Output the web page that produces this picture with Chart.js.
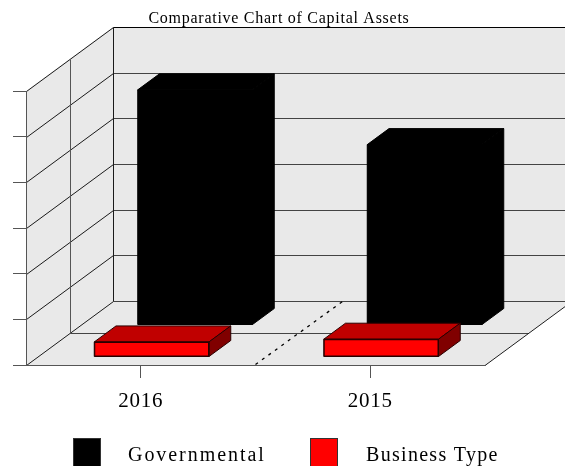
<!DOCTYPE html>
<html><head><meta charset="utf-8">
<style>html,body{margin:0;padding:0;background:#fff}canvas{display:block}</style>
<script src="https://cdn.jsdelivr.net/npm/chart.js@4"></script>
</head><body><canvas id="c" width="565" height="466"></canvas>
<script>
const categories = ["2016", "2015"];
const governmental = [515, 395];
const businessType = [33, 39];
const seriesNames = ["Governmental", "Business Type"];
const titleText = "Comparative Chart of Capital Assets";
const yMax = 600, yStep = 100;

const DEPTH = {x: 87, y: -64};
const FONT = "'Liberation Serif'";
const WALL = "#e9e9e9", LINE = "#1a1a1a", AXIS = "#555555";

function segment(ctx, x1, y1, x2, y2, color, width) {
  ctx.strokeStyle = color; ctx.lineWidth = width || 1;
  ctx.beginPath(); ctx.moveTo(x1, y1); ctx.lineTo(x2, y2); ctx.stroke();
}
function poly(ctx, pts, fill, stroke) {
  ctx.beginPath(); pts.forEach((p, i) => i ? ctx.lineTo(p[0], p[1]) : ctx.moveTo(p[0], p[1])); ctx.closePath();
  ctx.fillStyle = fill; ctx.fill();
  if (stroke) { ctx.strokeStyle = stroke; ctx.lineWidth = 1; ctx.stroke(); }
}

const box3d = {
  id: "box3d",
  beforeDraw(chart) {
    const {ctx, chartArea: a, scales: {x, y}} = chart, d = DEPTH;
    ctx.letterSpacing = "0.73px";
    ctx.save();
    poly(ctx, [[a.left, a.top], [a.left + d.x, a.top + d.y], [a.left + d.x, a.bottom + d.y], [a.left, a.bottom]], WALL);
    poly(ctx, [[a.left + d.x, a.top + d.y], [a.right + d.x, a.top + d.y], [a.right + d.x, a.bottom + d.y], [a.left + d.x, a.bottom + d.y]], WALL);
    poly(ctx, [[a.left, a.bottom], [a.right, a.bottom], [a.right + d.x, a.bottom + d.y], [a.left + d.x, a.bottom + d.y]], WALL);
    y.ticks.forEach(t => {
      const py = Math.round(y.getPixelForValue(t.value)) + 0.5;
      const l = a.left + 0.5;
      segment(ctx, l, py, l + d.x, py + d.y, LINE);
      segment(ctx, l + d.x, py + d.y, a.right + d.x, py + d.y, t.value === yMax ? "#000" : "#444");
    });
    const l = a.left + 0.5, t = a.top + 0.5, b = a.bottom + 0.5;
    const midX = Math.floor(l + d.x / 2) + 0.5;
    segment(ctx, l + d.x, t + d.y, l + d.x, b + d.y, LINE);
    segment(ctx, midX, t + d.y / 2, midX, b + d.y / 2, "#555");
    segment(ctx, midX, b + d.y / 2, a.right + d.x / 2, b + d.y / 2, "#444");
    segment(ctx, a.right, b, a.right + d.x, b + d.y, LINE);
    ctx.setLineDash([3, 5]);
    const mid = x.getPixelForValue(0.5);
    segment(ctx, mid, b - 1, mid + d.x, b + d.y, "#000", 1.3);
    ctx.restore();
  },
  beforeDatasetDraw(chart, args) {
    const ds = chart.data.datasets[args.index], {ctx} = chart;
    const f = ds.depthStart, w = ds.depthSize;
    const dx = DEPTH.x * w, dy = DEPTH.y * w;
    ctx.save();
    ctx.translate(DEPTH.x * f, DEPTH.y * f);
    args.meta.data.forEach(bar => {
      const p = bar.getProps(["x", "y", "base", "width"], true);
      const l = p.x - p.width / 2, r = p.x + p.width / 2;
      poly(ctx, [[l, p.y], [r, p.y], [r + dx, p.y + dy], [l + dx, p.y + dy]], ds.topColor, ds.borderColor);
      poly(ctx, [[r, p.y], [r + dx, p.y + dy], [r + dx, p.base + dy], [r, p.base]], ds.sideColor, ds.borderColor);
      poly(ctx, [[l, p.y], [r, p.y], [r, p.base], [l, p.base]], ds.borderColor, ds.borderColor);
    });
  },
  afterDatasetDraw(chart) { chart.ctx.restore(); },
  afterLayout(chart) {
    chart.titleBlock.left = 0; chart.titleBlock.right = 558;
  },
  afterDraw(chart) {
    const {ctx} = chart;
    const items = [{bx: 73, tx: 128, sp: "1.95px"}, {bx: 310, tx: 366, sp: "1.3px"}];
    ctx.save();
    ctx.font = "20px " + FONT;
    ctx.textBaseline = "middle"; ctx.textAlign = "left";
    chart.data.datasets.forEach((ds, i) => {
      ctx.fillStyle = ds.backgroundColor; ctx.strokeStyle = "#333"; ctx.lineWidth = 1;
      ctx.fillRect(items[i].bx, 438, 27, 28);
      ctx.strokeRect(items[i].bx + .5, 438.5, 27, 28);
      ctx.fillStyle = "#000";
      ctx.letterSpacing = items[i].sp;
      ctx.fillText(ds.label, items[i].tx, 456);
    });
    ctx.restore();
  }
};

new Chart(document.getElementById("c"), {
  type: "bar",
  plugins: [box3d],
  data: {
    labels: categories,
    datasets: [
      {label: seriesNames[0], data: governmental, backgroundColor: "#000000", borderColor: "#000000", topColor: "#000000", sideColor: "#000000", order: 2, depthStart: 0.625, depthSize: 0.25},
      {label: seriesNames[1], data: businessType, backgroundColor: "#ff0000", borderColor: "#2a0000", topColor: "#c00000", sideColor: "#800000", order: 1, depthStart: 0.125, depthSize: 0.25}
    ]
  },
  options: {
    responsive: false,
    animation: false,
    layout: {padding: {left: 0, right: 80, top: 0, bottom: 50}},
    datasets: {bar: {grouped: false, barPercentage: 0.5, categoryPercentage: 1, borderWidth: 1, borderSkipped: false, clip: false}},
    plugins: {
      legend: {display: false},
      tooltip: {enabled: false},
      title: {display: true, text: titleText, color: "#000", font: {family: FONT, size: 16, weight: "normal", lineHeight: 1.2}, padding: {top: 9, bottom: 62.8}}
    },
    scales: {
      x: {
        type: "category",
        grid: {offset: false, drawOnChartArea: false, drawTicks: true, tickLength: 13, color: AXIS},
        border: {display: true, color: AXIS},
        ticks: {color: "#000", padding: 11, font: {family: FONT, size: 21}, maxRotation: 0},
        afterFit(s) { s.height = 51; }
      },
      y: {
        min: 0, max: yMax,
        grid: {drawOnChartArea: false, drawTicks: true, tickLength: 13, color: AXIS},
        border: {display: true, color: AXIS},
        ticks: {display: false, stepSize: yStep},
        afterFit(s) { s.width = 26; }
      }
    }
  }
});
</script></body></html>
